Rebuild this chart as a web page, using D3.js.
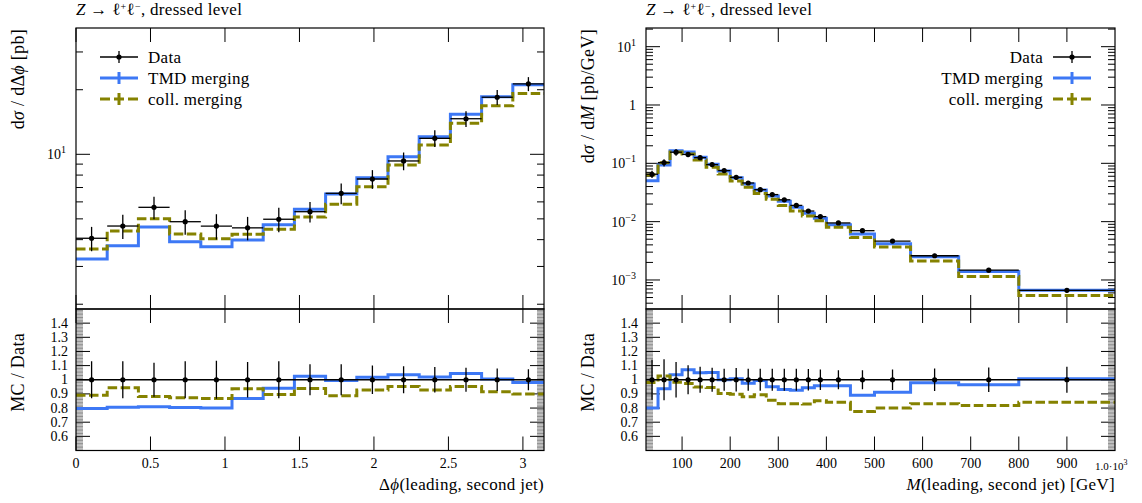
<!DOCTYPE html>
<html>
<head>
<meta charset="utf-8">
<script src="https://cdn.jsdelivr.net/npm/d3@7"></script>
<style>
  body { margin: 0; background: #fff; }
  text { font-family: "Liberation Serif", "DejaVu Serif", serif; fill: #000; }
  .lbl { letter-spacing: 0.3px; }
</style>
</head>
<body>
<div id="chart"></div>
<script>
// ---- Delta phi (leading, second jet) ----
const dphiEdges = [0, 0.2094, 0.4189, 0.6283, 0.8378, 1.0472, 1.2566, 1.4661, 1.6755,
  1.885, 2.0944, 2.3038, 2.5133, 2.7227, 2.9322, 3.1416];
const dphiData = [4.06, 4.63, 5.66, 4.85, 4.63, 4.54, 4.98, 5.40, 6.58, 7.67, 9.31, 11.87, 14.65, 18.45, 21.3];
const dphiDataErr = [0.13, 0.13, 0.12, 0.13, 0.135, 0.125, 0.13, 0.11, 0.11, 0.10, 0.095, 0.09, 0.085, 0.08, 0.075];
const dphiTmd = [3.25, 3.75, 4.58, 3.91, 3.71, 3.99, 4.69, 5.54, 6.53, 7.78, 9.74, 12.08, 15.36, 18.55, 21.1];
const dphiColl = [3.62, 4.39, 5.0, 4.25, 4.04, 4.24, 4.47, 5.1, 5.85, 7.06, 8.92, 11.05, 13.94, 16.84, 19.23];
const dphiTmdRatio = [0.797, 0.806, 0.81, 0.804, 0.80, 0.868, 0.94, 1.024, 0.995, 1.017, 1.035, 1.019, 1.045, 1.005, 0.98];
const dphiCollRatio = [0.891, 0.943, 0.882, 0.872, 0.868, 0.936, 0.896, 0.939, 0.887, 0.927, 0.953, 0.927, 0.953, 0.915, 0.90];
const dphiXTicks = [0, 0.5, 1, 1.5, 2, 2.5, 3];

// ---- M (leading, second jet) ----
const massEdges = [25, 50, 75, 100, 125, 150, 175, 200, 225, 250, 275, 300, 325, 350, 375, 400,
  450, 500, 575, 675, 800, 1000];
const massData = [0.065, 0.103, 0.155, 0.142, 0.125, 0.095, 0.075, 0.0575, 0.046, 0.0354, 0.0291,
  0.0237, 0.019, 0.0152, 0.0122, 0.0095, 0.007, 0.00465, 0.0026, 0.00147, 0.000665];
const massDataErr = [0.142, 0.144, 0.126, 0.103, 0.091, 0.085, 0.078, 0.083, 0.078, 0.078, 0.078,
  0.078, 0.078, 0.076, 0.073, 0.067, 0.068, 0.072, 0.08, 0.086, 0.092];
const massTmd = [0.0504, 0.0935, 0.164, 0.156, 0.127, 0.096, 0.0738, 0.0566, 0.0442, 0.0348, 0.0275,
  0.0223, 0.0176, 0.0140, 0.0114, 0.00885, 0.00612, 0.00418, 0.0025, 0.0014, 0.000664];
const massColl = [0.063, 0.102, 0.156, 0.145, 0.114, 0.0853, 0.0656, 0.0498, 0.0387, 0.0305, 0.0241,
  0.019, 0.0152, 0.0125, 0.0104, 0.00798, 0.00537, 0.00366, 0.00211, 0.00115, 0.000544];
const massTmdRatio = [0.80, 0.936, 1.035, 1.071, 1.05, 1.052, 1.0, 1.007, 0.976, 0.995, 0.95,
  0.931, 0.926, 0.943, 0.957, 0.957, 0.891, 0.912, 0.979, 0.964, 1.007];
const massCollRatio = [0.98, 1.026, 0.983, 0.974, 0.948, 0.945, 0.903, 0.898, 0.879, 0.894, 0.855,
  0.83, 0.83, 0.828, 0.851, 0.841, 0.775, 0.80, 0.83, 0.818, 0.841];
const massXTicks = [100, 200, 300, 400, 500, 600, 700, 800, 900];

const legendLabels = ["Data", "TMD merging", "coll. merging"];
const ratioLabels = [0.6, 0.7, 0.8, 0.9, 1, 1.1, 1.2, 1.3, 1.4];

const BLUE = "#3d78f5";
const OLIVE = "#858200";
const W = 1142, H = 503;
const mainTop = 28, mainBottom = 309, ratioBottom = 450.5;

const svg = d3.select("#chart").append("svg")
  .attr("width", W)
  .attr("height", H);

let clipId = 0;

function drawPanel(p) {
  const g = svg.append("g");
  const x = d3.scaleLinear().domain(p.xDomain).range([p.left, p.right]);
  const y = d3.scaleLog().domain(p.yDomain).range([mainBottom, mainTop]);
  const yr = d3.scaleLinear().domain([0.5, 1.5]).range([ratioBottom, mainBottom]);

  // clip paths
  const mainClip = "clip" + (clipId++);
  const ratioClip = "clip" + (clipId++);
  const defs = svg.append("defs");
  defs.append("clipPath").attr("id", mainClip).append("rect")
    .attr("x", p.left).attr("y", mainTop).attr("width", p.right - p.left).attr("height", mainBottom - mainTop);
  defs.append("clipPath").attr("id", ratioClip).append("rect")
    .attr("x", p.left).attr("y", mainBottom).attr("width", p.right - p.left).attr("height", ratioBottom - mainBottom);

  // title
  const title = g.append("text").attr("class", "lbl").attr("x", p.left).attr("y", 15).attr("font-size", 17);
  title.append("tspan").attr("font-style", "italic").text("Z");
  title.append("tspan").text(" \u2192 \u2113");
  title.append("tspan").attr("dy", -5).attr("font-size", 10).text("+");
  title.append("tspan").attr("dy", 5).text("\u2113");
  title.append("tspan").attr("dy", -5).attr("font-size", 10).text("\u2212");
  title.append("tspan").attr("dy", 5).text(", dressed level");

  // ---- ticks ----
  const tickG = g.append("g").attr("stroke", "#000").attr("stroke-width", 1);
  const xt = p.xTicks;
  // x ticks on both panels, top and bottom edges
  [[mainTop, 1], [mainBottom, -1], [mainBottom, 1], [ratioBottom, -1]].forEach(([y0, dir]) => {
    tickG.selectAll(null).data(xt).join("line")
      .attr("x1", (d) => x(d)).attr("x2", (d) => x(d))
      .attr("y1", y0).attr("y2", y0 + dir * 14);
  });

  // main y ticks (log)
  const yMinor = [];
  for (let e = -5; e <= 2; e++) {
    for (let k = 2; k <= 9; k++) {
      const v = k * Math.pow(10, e);
      if (v > p.yDomain[0] && v < p.yDomain[1]) yMinor.push(v);
    }
  }
  [[p.left, 1], [p.right, -1]].forEach(([x0, dir]) => {
    tickG.selectAll(null).data(p.yMajor).join("line")
      .attr("x1", x0).attr("x2", x0 + dir * 14)
      .attr("y1", (d) => y(d)).attr("y2", (d) => y(d));
    tickG.selectAll(null).data(yMinor).join("line")
      .attr("x1", x0).attr("x2", x0 + dir * 7)
      .attr("y1", (d) => y(d)).attr("y2", (d) => y(d));
  });

  // ratio y ticks
  const rMajor = d3.range(6, 15).map((i) => i / 10);
  const rMinor = d3.range(51, 150).filter((i) => i % 10 !== 0).map((i) => i / 100);
  [[p.left, 1], [p.right, -1]].forEach(([x0, dir]) => {
    tickG.selectAll(null).data(rMajor).join("line")
      .attr("x1", x0).attr("x2", x0 + dir * 14)
      .attr("y1", (d) => yr(d)).attr("y2", (d) => yr(d));
    tickG.selectAll(null).data(rMinor).join("line")
      .attr("stroke-width", 0.45)
      .attr("x1", x0).attr("x2", x0 + dir * 7)
      .attr("y1", (d) => yr(d)).attr("y2", (d) => yr(d));
  });

  // ---- tick labels ----
  g.selectAll(null).data(xt).join("text")
    .attr("x", (d) => x(d)).attr("y", 468)
    .attr("text-anchor", "middle").attr("font-size", 14)
    .text((d) => d3.format("~g")(d));

  if (p.xEndLabel) {
    const t = g.append("text").attr("x", p.right - 20).attr("y", 470).attr("font-size", 11);
    t.append("tspan").text("1.0\u00b710");
    t.append("tspan").attr("dy", -5).attr("font-size", 8).text("3");
  }

  p.yMajor.forEach((v) => {
    const ex = Math.round(Math.log10(v));
    const t = g.append("text").attr("x", p.left - 10).attr("y", y(v) + 5)
      .attr("text-anchor", "end").attr("font-size", 14);
    if (ex === 0) {
      t.text("1");
    } else {
      t.append("tspan").text("10");
      t.append("tspan").attr("dy", -6).attr("font-size", 10)
        .text(ex < 0 ? "\u2212" + (-ex) : String(ex));
    }
  });

  g.selectAll(null).data(ratioLabels).join("text")
    .attr("x", p.left - 8).attr("y", (d) => yr(d) + 4.5)
    .attr("text-anchor", "end").attr("font-size", 14)
    .text((d) => d3.format("~g")(d));

  // ---- axis titles ----
  const yl = g.append("text").attr("class", "lbl")
    .attr("transform", `translate(${p.left - 52},${mainTop + 1}) rotate(-90)`)
    .attr("text-anchor", "end").attr("font-size", 18);
  p.yTitle(yl);

  g.append("text").attr("class", "lbl")
    .attr("transform", `translate(${p.left - 52},333) rotate(-90)`)
    .attr("text-anchor", "end").attr("font-size", 18)
    .text("MC / Data");

  const xl = g.append("text").attr("class", "lbl").attr("x", p.right).attr("y", 490)
    .attr("text-anchor", "end").attr("font-size", 17);
  p.xTitle(xl);

  // ---- histograms ----
  const step = (vals, ys) => {
    const pts = p.edges.map((e, i) => [e, vals[Math.min(i, vals.length - 1)]]);
    return d3.line().x((d) => x(d[0])).y((d) => ys(d[1])).curve(d3.curveStepAfter)(pts);
  };

  const mainG = g.append("g").attr("clip-path", `url(#${mainClip})`);
  const ratioG = g.append("g").attr("clip-path", `url(#${ratioClip})`);

  mainG.append("path").attr("d", step(p.tmd, y))
    .attr("fill", "none").attr("stroke", BLUE).attr("stroke-width", 3);
  mainG.append("path").attr("d", step(p.coll, y))
    .attr("fill", "none").attr("stroke", OLIVE).attr("stroke-width", 3)
    .attr("stroke-dasharray", "9.5,3.5");

  ratioG.append("path").attr("d", step(p.tmdRatio, yr))
    .attr("fill", "none").attr("stroke", BLUE).attr("stroke-width", 3);
  ratioG.append("path").attr("d", step(p.collRatio, yr))
    .attr("fill", "none").attr("stroke", OLIVE).attr("stroke-width", 3)
    .attr("stroke-dasharray", "9.5,3.5");

  // data points
  const bins = p.data.map((v, i) => ({
    lo: p.edges[i], hi: p.edges[i + 1], mid: (p.edges[i] + p.edges[i + 1]) / 2, v, err: p.dataErr[i]
  }));

  const dG = mainG.append("g").attr("stroke", "#000").attr("stroke-width", 1.3);
  dG.selectAll(null).data(bins).join("line")
    .attr("x1", (d) => x(d.lo)).attr("x2", (d) => x(d.hi))
    .attr("y1", (d) => y(d.v)).attr("y2", (d) => y(d.v));
  dG.selectAll(null).data(bins).join("line")
    .attr("x1", (d) => x(d.mid)).attr("x2", (d) => x(d.mid))
    .attr("y1", (d) => y(d.v * (1 - d.err))).attr("y2", (d) => y(d.v * (1 + d.err)));
  mainG.selectAll(null).data(bins).join("circle")
    .attr("cx", (d) => x(d.mid)).attr("cy", (d) => y(d.v)).attr("r", 2.6);

  const rG = ratioG.append("g").attr("stroke", "#000").attr("stroke-width", 1.3);
  rG.append("line").attr("x1", p.left).attr("x2", p.right).attr("y1", yr(1)).attr("y2", yr(1));
  rG.selectAll(null).data(bins).join("line")
    .attr("x1", (d) => x(d.mid)).attr("x2", (d) => x(d.mid))
    .attr("y1", (d) => yr(1 - d.err)).attr("y2", (d) => yr(1 + d.err));
  ratioG.selectAll(null).data(bins).join("circle")
    .attr("cx", (d) => x(d.mid)).attr("cy", yr(1)).attr("r", 2.6);

  // frames
  g.append("rect").attr("x", p.left).attr("y", mainTop)
    .attr("width", p.right - p.left).attr("height", mainBottom - mainTop)
    .attr("fill", "none").attr("stroke", "#000").attr("stroke-width", 1.2);
  g.append("rect").attr("x", p.left).attr("y", mainBottom)
    .attr("width", p.right - p.left).attr("height", ratioBottom - mainBottom)
    .attr("fill", "none").attr("stroke", "#000").attr("stroke-width", 1.2);

  // ---- legend ----
  const lg = g.append("g");
  const rowY = [57, 78, 99];
  const symX0 = p.legendRight ? p.legendX + 10 : p.legendX;
  const symX1 = symX0 + 38;
  const textX = p.legendRight ? p.legendX : symX1 + 10;
  legendLabels.forEach((lab, i) => {
    lg.append("text").attr("class", "lbl").attr("x", textX).attr("y", rowY[i] + 5.5)
      .attr("text-anchor", p.legendRight ? "end" : "start")
      .attr("font-size", 17).text(lab);
  });
  const mid = (symX0 + symX1) / 2;
  // data symbol
  lg.append("line").attr("x1", symX0).attr("x2", symX1).attr("y1", rowY[0]).attr("y2", rowY[0])
    .attr("stroke", "#000").attr("stroke-width", 1.3);
  lg.append("line").attr("x1", mid).attr("x2", mid).attr("y1", rowY[0] - 6).attr("y2", rowY[0] + 6)
    .attr("stroke", "#000").attr("stroke-width", 1.3);
  lg.append("circle").attr("cx", mid).attr("cy", rowY[0]).attr("r", 2.6);
  // MC symbols
  [[BLUE, null, rowY[1]], [OLIVE, "10,4", rowY[2]]].forEach(([c, dash, yy]) => {
    lg.append("line").attr("x1", symX0).attr("x2", symX1).attr("y1", yy).attr("y2", yy)
      .attr("stroke", c).attr("stroke-width", 3).attr("stroke-dasharray", dash);
    lg.append("line").attr("x1", mid).attr("x2", mid).attr("y1", yy - 6).attr("y2", yy + 6)
      .attr("stroke", c).attr("stroke-width", 3);
  });
}

drawPanel({
  left: 76, right: 544,
  xDomain: [0, Math.PI], yDomain: [1.9, 38.8],
  edges: dphiEdges, data: dphiData, dataErr: dphiDataErr,
  tmd: dphiTmd, coll: dphiColl, tmdRatio: dphiTmdRatio, collRatio: dphiCollRatio,
  xTicks: dphiXTicks, yMajor: [10],
  legendX: 100, legendRight: false,
  yTitle: (t) => {
    t.append("tspan").text("d");
    t.append("tspan").attr("font-style", "italic").text("\u03c3");
    t.append("tspan").text(" / d\u0394");
    t.append("tspan").attr("font-style", "italic").text("\u03d5");
    t.append("tspan").text(" [pb]");
  },
  xTitle: (t) => {
    t.append("tspan").text("\u0394");
    t.append("tspan").attr("font-style", "italic").text("\u03d5");
    t.append("tspan").text("(leading, second jet)");
  }
});

drawPanel({
  left: 646, right: 1115,
  xDomain: [25, 1000], yDomain: [3.18e-4, 20.9],
  edges: massEdges, data: massData, dataErr: massDataErr,
  tmd: massTmd, coll: massColl, tmdRatio: massTmdRatio, collRatio: massCollRatio,
  xTicks: massXTicks, yMajor: [1e-3, 1e-2, 1e-1, 1, 10], xEndLabel: true,
  legendX: 1043, legendRight: true,
  yTitle: (t) => {
    t.append("tspan").text("d");
    t.append("tspan").attr("font-style", "italic").text("\u03c3");
    t.append("tspan").text(" / d");
    t.append("tspan").attr("font-style", "italic").text("M");
    t.append("tspan").text(" [pb/GeV]");
  },
  xTitle: (t) => {
    t.append("tspan").attr("font-style", "italic").text("M");
    t.append("tspan").text("(leading, second jet) [GeV]");
  }
});
</script>
</body>
</html>
